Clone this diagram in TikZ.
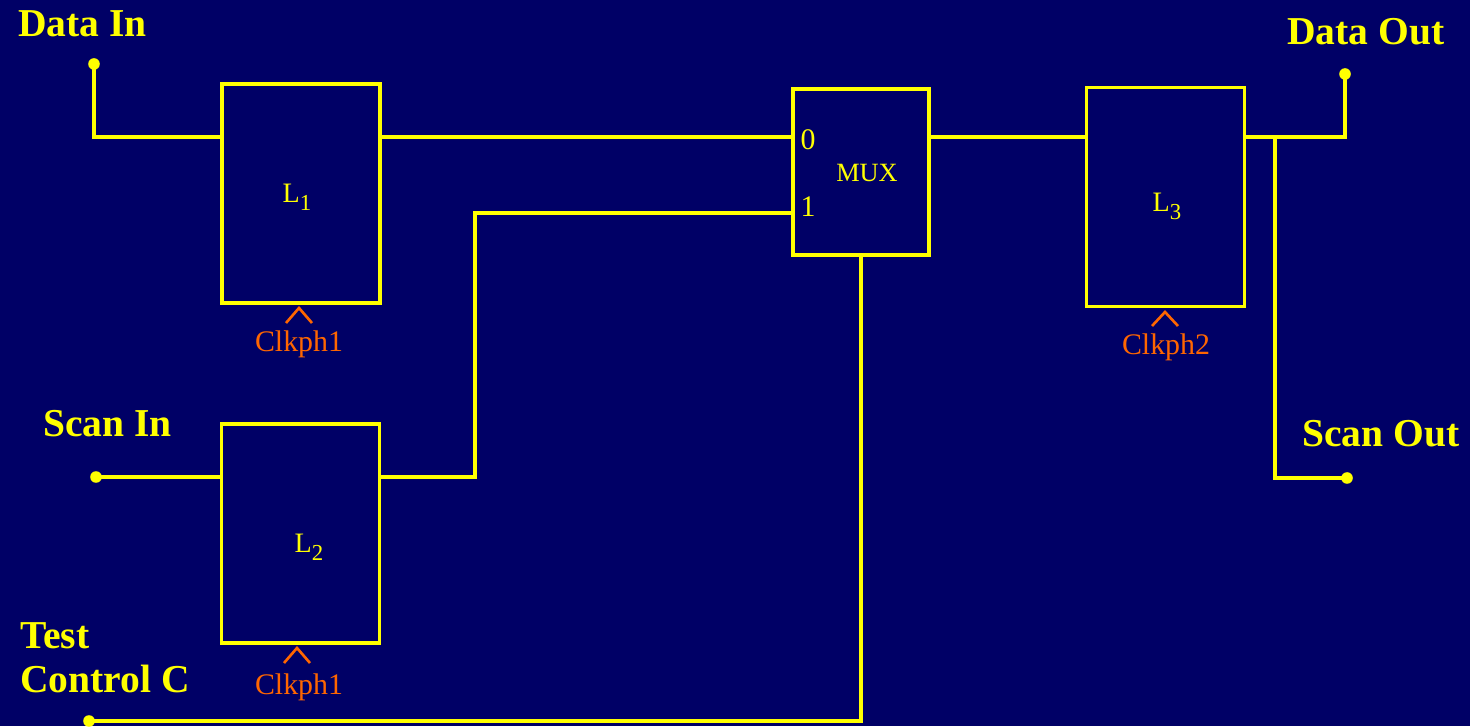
\documentclass[tikz,border=0pt]{standalone}
\usepackage{fontspec}
\setmainfont{Liberation Serif}
\usepackage{tikz}
\usetikzlibrary{positioning}
\definecolor{navy}{RGB}{0,0,102}
\definecolor{wire}{RGB}{255,255,0}
\definecolor{clk}{RGB}{255,102,0}
\newcommand{\latchname}[1]{L\raisebox{-4.5pt}{\fontsize{13}{15}\selectfont #1}}

\begin{document}
\begin{tikzpicture}[x=0.02cm, y=-0.02cm,
  latch/.style={draw=wire, line width=1.9pt, minimum width=3.16cm, minimum height=4.38cm, inner sep=0pt},
  muxbox/.style={draw=wire, line width=1.9pt, minimum width=2.72cm, minimum height=3.32cm, inner sep=0pt},
  net/.style={wire, line width=1.9pt},
  sig/.style={text=wire, font=\fontsize{22.5}{27}\selectfont\bfseries, inner sep=0pt, anchor=base west},
  lbl/.style={text=wire, font=\fontsize{16}{19}\selectfont, inner sep=0pt, anchor=base},
  clktxt/.style={text=clk, font=\fontsize{17}{20}\selectfont, inner sep=0pt, anchor=base},
  caret/.style={clk, line width=1.5pt}]
  \fill[navy] (0,0) rectangle (1470,726);

  % latches and mux
  \node[latch] (L1) at (301,193.5) {};
  \node[latch] (L2) at (300.5,533.5) {};
  \node[latch] (L3) at (1165.5,197) {};
  \node[muxbox] (mux) at (861,172) {};
  \node[lbl] (l1txt) at (297,203) {\latchname{1}};
  \node[lbl] (l2txt) at (309,553) {\latchname{2}};
  \node[lbl] (l3txt) at (1167,212) {\latchname{3}};
  \node[lbl, font=\fontsize{15}{18}\selectfont] (muxtxt) at (867,182) {MUX};
  \node[lbl, font=\fontsize{17}{20}\selectfont] (in0) at (808,150) {0};
  \node[lbl, font=\fontsize{17}{20}\selectfont] (in1) at (808,217) {1};

  % clocks
  \draw[caret] (286,323) -- (299,308) -- (312,323);
  \draw[caret] (284,663) -- (297,648) -- (310,663);
  \draw[caret] (1152,326) -- (1165,312) -- (1178,326);
  \node[clktxt] (ck1) at (299,352) {Clkph1};
  \node[clktxt] (ck2) at (299,694) {Clkph1};
  \node[clktxt] (ck3) at (1166,355) {Clkph2};

  % pins
  \coordinate (din) at (94,64);
  \coordinate (sin) at (96,477);
  \coordinate (tc) at (89,721);
  \coordinate (dout) at (1345,74);
  \coordinate (sout) at (1347,478);
  \coordinate (rowA) at (0,137);
  \coordinate (rowB) at (0,213);
  \coordinate (rowC) at (0,477);
  \coordinate (jog) at (475,0);
  \coordinate (tap) at (1275,0);
  \foreach \p in {din,sin,tc,dout,sout}
    \fill[wire] (\p) circle (3.3pt);

  \node[sig] (dinTxt) at (18,37) {Data In};
  \node[sig] (sinTxt) at (43,437) {Scan In};
  \node[sig] (tcTxt1) at (20,648) {Test};
  \node[sig] (tcTxt2) at (20,692) {Control C};
  \node[sig] (doutTxt) at (1287,45) {Data Out};
  \node[sig] (soutTxt) at (1302,447) {Scan Out};

  % wiring
  \draw[net] (din) |- (L1.west |- rowA);
  \draw[net] (L1.east |- rowA) -- (mux.west |- rowA);
  \draw[net] (sin) -- (L2.west |- rowC);
  \draw[net] (L2.east |- rowC) -| (jog |- rowB) -- (mux.west |- rowB);
  \draw[net] (tc) -| (mux.south);
  \draw[net] (mux.east |- rowA) -- (L3.west |- rowA);
  \draw[net] (L3.east |- rowA) -| (dout);
  \draw[net] (tap |- rowA) |- (sout);
\end{tikzpicture}
\end{document}
